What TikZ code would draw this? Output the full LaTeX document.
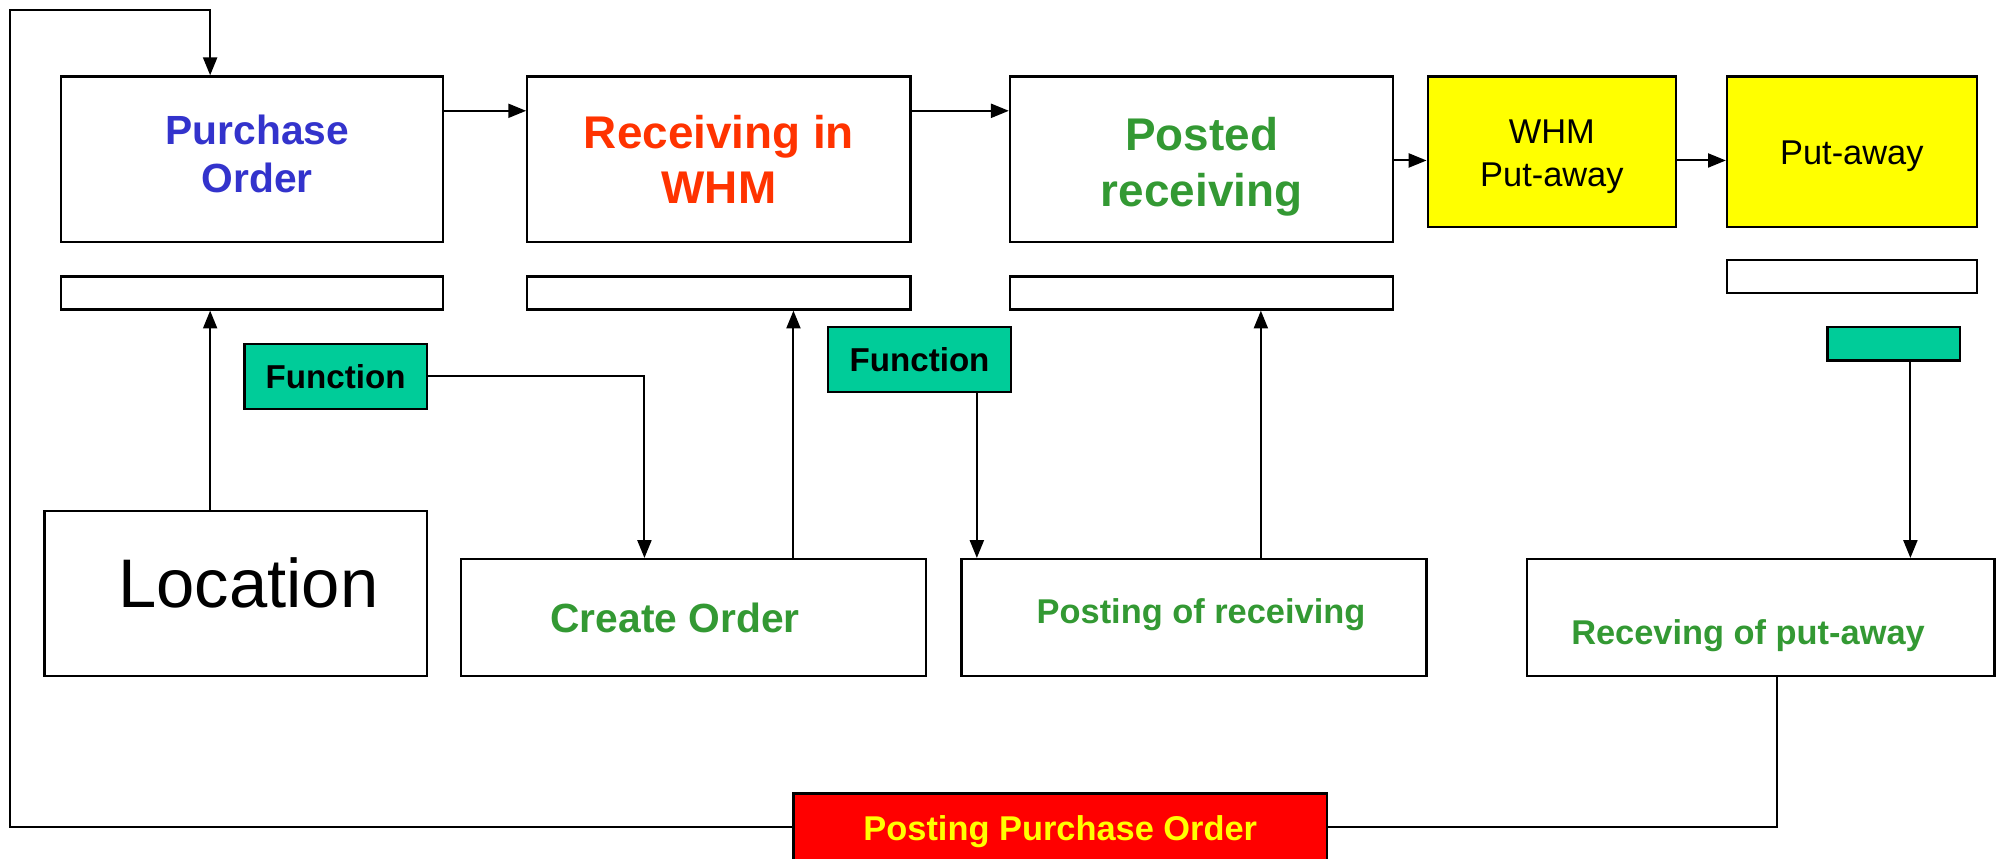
\documentclass[tikz,border=0pt]{standalone}
\usepackage{fontspec}
\setmainfont{Liberation Sans}
\usetikzlibrary{arrows.meta,calc}
\definecolor{poblue}{HTML}{3333CC}
\definecolor{rwred}{HTML}{FF3300}
\definecolor{okgreen}{HTML}{339933}
\definecolor{teal}{HTML}{00CC99}
\definecolor{ppored}{HTML}{FF0000}
\definecolor{ylw}{HTML}{FFFF00}
\begin{document}
\begin{tikzpicture}[x=1pt,y=-1pt,
  box/.style={draw=black,line width=1.8pt,fill=white,inner sep=0pt,align=center},
  ybox/.style={box,fill=ylw},
  yfont/.style={font=\fontsize{27}{34}\selectfont},
  fbox/.style={box,fill=teal,font=\bfseries\fontsize{26}{30}\selectfont},
  gtext/.style={text=okgreen,font=\bfseries\fontsize{27}{32}\selectfont},
  arr/.style={line width=1.6pt,-{Triangle[length=14pt,width=11pt]}},
  conn/.style={line width=1.6pt}]
\useasboundingbox (0,0) rectangle (1568,674);
% top row
\node[box,minimum width=300pt,minimum height=130pt,
  label={[text=poblue,font=\bfseries\fontsize{32}{38}\selectfont,align=center,yshift=4pt,xshift=4pt]center:Purchase\\Order}] (po) at (198,125) {};
\node[box,minimum width=300pt,minimum height=26pt] (pobar) at (198,230) {};
\node[box,minimum width=301pt,minimum height=130pt,text=rwred,font=\bfseries\fontsize{36}{43}\selectfont] (rw) at (564.5,125) {Receiving in\\WHM};
\node[box,minimum width=301pt,minimum height=26pt] (rwbar) at (564.5,230) {};
\node[box,minimum width=301pt,minimum height=130pt,
  label={[text=okgreen,font=\bfseries\fontsize{36}{44}\selectfont,align=center,yshift=-6pt]center:Posted\\receiving}] (pr) at (943.5,125) {};
\node[box,minimum width=301pt,minimum height=26pt] (prbar) at (943.5,230) {};
\node[ybox,minimum width=195pt,minimum height=118pt,
  label={[yfont,align=center,yshift=-4pt]center:WHM\\Put-away}] (whm) at (1218.5,119) {};
\node[ybox,minimum width=196pt,minimum height=118pt,
  label={[yfont,yshift=-4pt]center:Put-away}] (pa) at (1454,119) {};
\node[box,minimum width=196pt,minimum height=26pt] (pabar) at (1454,217) {};
% function boxes
\node[fbox,minimum width=143pt,minimum height=51pt] (fn1) at (263.5,295.5) {Function};
\node[fbox,minimum width=144pt,minimum height=51pt] (fn2) at (722,282.5) {\raisebox{-2pt}{Function}};
\node[fbox,minimum width=104pt,minimum height=26pt] (fn3) at (1487,270) {};
% bottom row
\node[box,minimum width=300pt,minimum height=130pt,
  label={[font=\fontsize{54}{60}\selectfont,xshift=10pt,yshift=8pt]center:Location}] (loc) at (185,466) {};
\node[box,minimum width=365pt,minimum height=92pt,
  label={[gtext,font=\bfseries\fontsize{32}{36}\selectfont,xshift=-14.5pt]center:Create Order}] (co) at (544.5,485) {};
\node[box,minimum width=365pt,minimum height=92pt,
  label={[gtext,xshift=5.5pt,yshift=2pt]center:Posting of receiving}] (por) at (937.5,485) {};
\node[box,minimum width=367pt,minimum height=92pt,
  label={[gtext,xshift=-10pt,yshift=-14pt]center:Receving of put-away}] (rpa) at (1382.5,485) {};
\node[box,fill=ppored,minimum width=419pt,minimum height=54pt,
  label={[text=ylw,font=\bfseries\fontsize{27}{32}\selectfont,yshift=-3pt]center:Posting Purchase Order}] (ppo) at (832.5,650) {};
% connectors top row
\draw[arr] ([yshift=38pt]po.east) -- ([yshift=38pt]rw.west);
\draw[arr] ([yshift=38pt]rw.east) -- ([yshift=38pt]pr.west);
\draw[arr] ([yshift=-1pt]pr.east) -- ([yshift=-1pt]pr.east -| whm.west);
\draw[arr] ([yshift=-7pt]whm.east) -- ([yshift=-7pt]pa.west);
% verticals
\draw[arr] ([xshift=-20pt]loc.north) -- ([xshift=-20pt]loc.north |- pobar.south);
\draw[arr] (fn1.east) -| ([xshift=-38.5pt]co.north);
\draw[arr] ([xshift=78.5pt]co.north) -- ([xshift=78.5pt]co.north |- rwbar.south);
\draw[arr] ([xshift=45pt]fn2.south) -- ([xshift=45pt]fn2.south |- por.north);
\draw[arr] ([xshift=52.5pt]por.north) -- ([xshift=52.5pt]por.north |- prbar.south);
\draw[arr] ([xshift=13pt]fn3.south) -- ([xshift=13pt]fn3.south |- rpa.north);
% feedback loop
\draw[conn] ([xshift=12.5pt]rpa.south) |- ([yshift=1pt]ppo.east);
\coordinate (lc) at (8,8);
\draw[arr] ([yshift=1pt]ppo.west) -| (lc) -| ([xshift=-33pt]po.north);
\end{tikzpicture}
\end{document}
